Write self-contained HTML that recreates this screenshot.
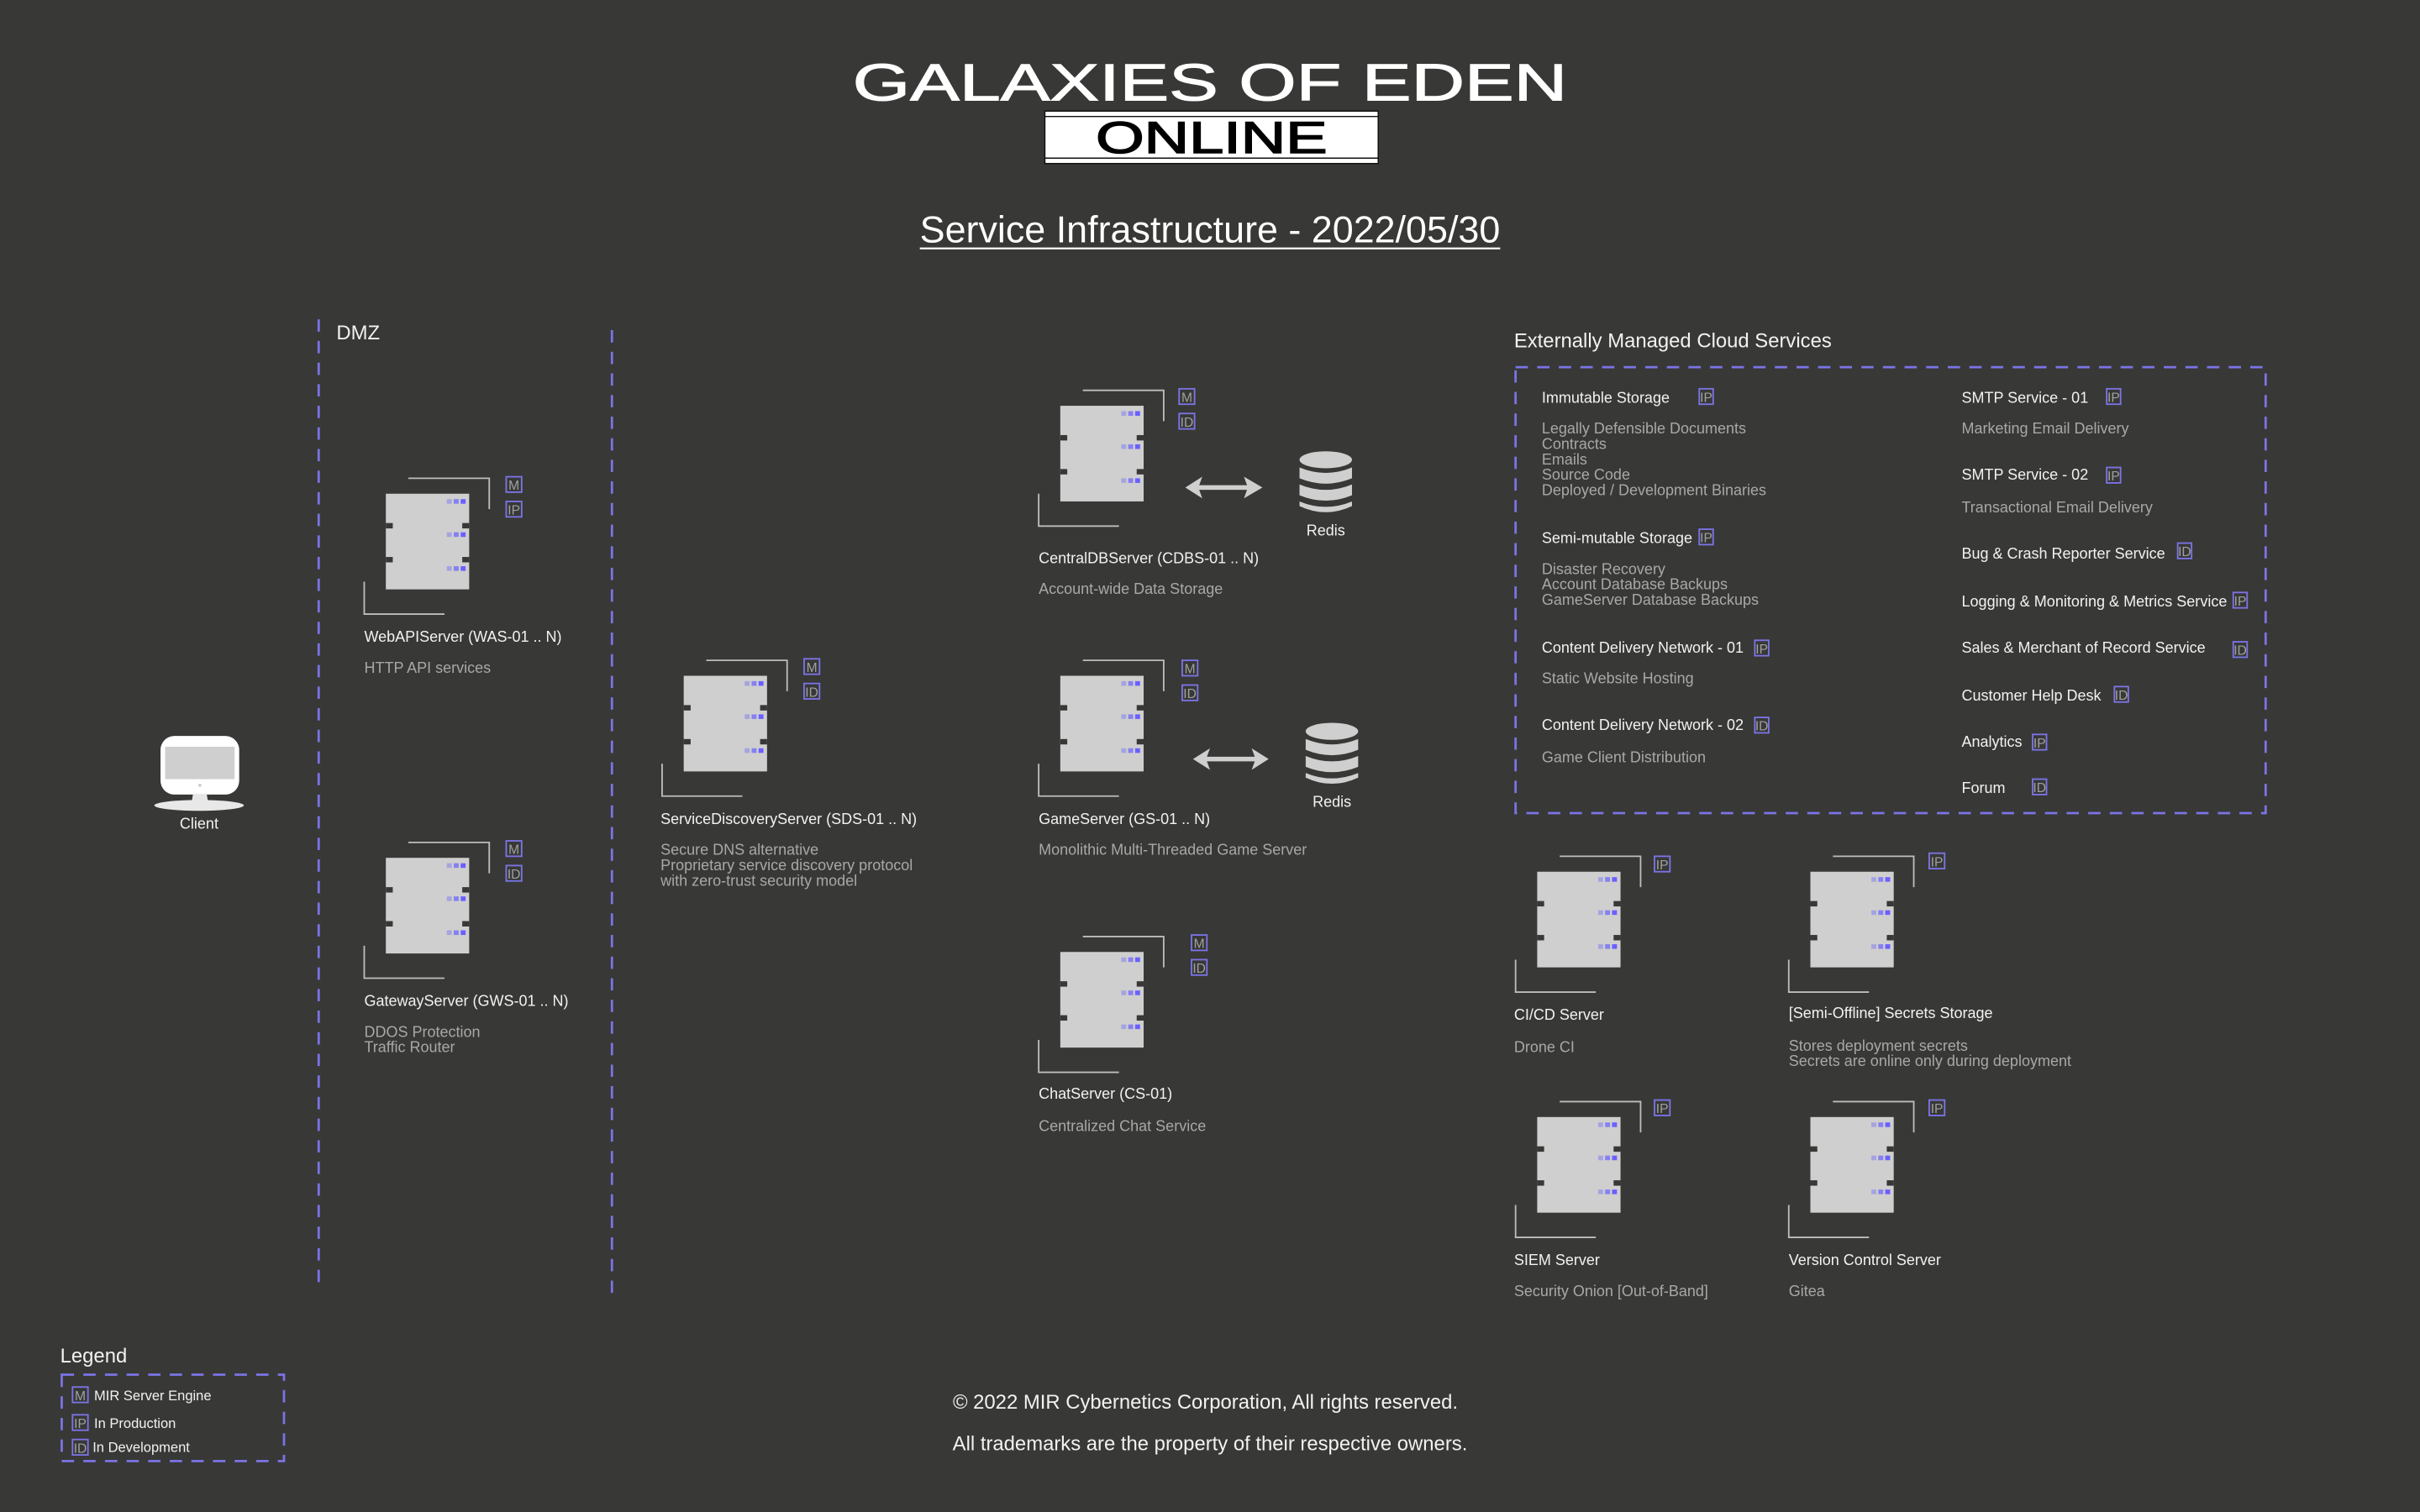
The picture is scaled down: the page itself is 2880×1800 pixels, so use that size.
<!DOCTYPE html>
<html><head><meta charset="utf-8"><style>
html,body{margin:0;padding:0;background:#383836;}
svg{display:block;}
text{font-family:"Liberation Sans",sans-serif;}
.w{fill:#f2f2f2;font-size:9.8px;}
.g{fill:#a8a8a8;font-size:9.8px;}
.h{fill:#f2f2f2;font-size:13px;}
.b{fill:none;stroke:#7b74e6;stroke-width:1;}
.bt{fill:#a0a0a0;font-size:8.5px;}
</style></head><body>
<svg width="2880" height="1800" viewBox="0 0 1568 980" xmlns="http://www.w3.org/2000/svg">
<rect width="1568" height="980" fill="#383836"/>
<defs>
<g id="srv">
 <polyline points="14.6,-10 67,-10 67,10" fill="none" stroke="#bdbdbd" stroke-width="1"/>
 <polyline points="-14,57 -14,78 38,78" fill="none" stroke="#bdbdbd" stroke-width="1"/>
 <rect x="0" y="0" width="54" height="62" fill="#cfcfcf"/>
 <rect x="0" y="19" width="4.5" height="3.5" fill="#383836"/>
 <rect x="49.5" y="19" width="4.5" height="3.5" fill="#383836"/>
 <rect x="0" y="41" width="4.5" height="3.5" fill="#383836"/>
 <rect x="49.5" y="41" width="4.5" height="3.5" fill="#383836"/>
 <g id="dots"><rect x="39.5" y="3.5" width="3.2" height="3" fill="#a6a3e0"/><rect x="44" y="3.5" width="3.2" height="3" fill="#8680f0"/><rect x="48.5" y="3.5" width="3.2" height="3" fill="#6a60ff"/></g>
 <use href="#dots" y="21.5"/><use href="#dots" y="43.5"/>
</g>
</defs>

<!-- Title -->
<text x="784" y="65" text-anchor="middle" fill="#ffffff" font-size="34" textLength="463" lengthAdjust="spacingAndGlyphs" stroke="#ffffff" stroke-width="0.6">GALAXIES OF EDEN</text>
<rect x="677" y="72" width="216" height="34" fill="#ffffff" stroke="#111" stroke-width="0.8"/>
<line x1="677" y1="75.5" x2="893" y2="75.5" stroke="#111" stroke-width="0.8"/>
<line x1="677" y1="102.5" x2="893" y2="102.5" stroke="#111" stroke-width="0.8"/>
<text x="785" y="99" text-anchor="middle" fill="#000" font-size="29" textLength="150" lengthAdjust="spacingAndGlyphs" stroke="#000" stroke-width="0.8">ONLINE</text>
<text x="784" y="157" text-anchor="middle" fill="#ffffff" font-size="24" textLength="376" lengthAdjust="spacingAndGlyphs">Service Infrastructure - 2022/05/30</text>
<line x1="596" y1="161" x2="972" y2="161" stroke="#ffffff" stroke-width="1.2"/>

<!-- DMZ -->
<line x1="206.5" y1="207" x2="206.5" y2="836" stroke="#7b74e6" stroke-width="1.5" stroke-dasharray="8,6"/>
<line x1="396.5" y1="214" x2="396.5" y2="838" stroke="#7b74e6" stroke-width="1.5" stroke-dasharray="8,6"/>
<text x="218" y="220" class="h">DMZ</text>

<!-- Client -->
<rect x="104" y="477" width="51" height="38" rx="9" fill="#ffffff"/>
<rect x="107" y="484" width="45" height="21" fill="#cfcfcf"/>
<circle cx="129.5" cy="509" r="1" fill="#ccc"/>
<path d="M125 515 L134 515 L135 521 L124 521 Z" fill="#e6e6e6"/>
<ellipse cx="129" cy="522" rx="29" ry="3.5" fill="#e8e8e8"/>
<text x="129" y="537" text-anchor="middle" class="w">Client</text>

<!-- Servers -->
<use href="#srv" x="250" y="320"/>
<use href="#srv" x="250" y="556"/>
<use href="#srv" x="443" y="438"/>
<use href="#srv" x="687" y="263"/>
<use href="#srv" x="687" y="438"/>
<use href="#srv" x="687" y="617"/>
<use href="#srv" x="996" y="565"/>
<use href="#srv" x="1173" y="565"/>
<use href="#srv" x="996" y="724"/>
<use href="#srv" x="1173" y="724"/>

<!-- badges -->
<g>
<rect class="b" x="328" y="309" width="10" height="10"/><text x="333" y="317.5" text-anchor="middle" class="bt">M</text>
<rect class="b" x="328" y="325" width="10" height="10"/><text x="333" y="333.5" text-anchor="middle" class="bt">IP</text>
<rect class="b" x="328" y="545" width="10" height="10"/><text x="333" y="553.5" text-anchor="middle" class="bt">M</text>
<rect class="b" x="328" y="561" width="10" height="10"/><text x="333" y="569.5" text-anchor="middle" class="bt">ID</text>
<rect class="b" x="521" y="427" width="10" height="10"/><text x="526" y="435.5" text-anchor="middle" class="bt">M</text>
<rect class="b" x="521" y="443" width="10" height="10"/><text x="526" y="451.5" text-anchor="middle" class="bt">ID</text>
<rect class="b" x="764" y="252" width="10" height="10"/><text x="769" y="260.5" text-anchor="middle" class="bt">M</text>
<rect class="b" x="764" y="268" width="10" height="10"/><text x="769" y="276.5" text-anchor="middle" class="bt">ID</text>
<rect class="b" x="766" y="428" width="10" height="10"/><text x="771" y="436.5" text-anchor="middle" class="bt">M</text>
<rect class="b" x="766" y="444" width="10" height="10"/><text x="771" y="452.5" text-anchor="middle" class="bt">ID</text>
<rect class="b" x="772" y="606" width="10" height="10"/><text x="777" y="614.5" text-anchor="middle" class="bt">M</text>
<rect class="b" x="772" y="622" width="10" height="10"/><text x="777" y="630.5" text-anchor="middle" class="bt">ID</text>
<rect class="b" x="1072" y="555" width="10" height="10"/><text x="1077" y="563.5" text-anchor="middle" class="bt">IP</text>
<rect class="b" x="1250" y="553" width="10" height="10"/><text x="1255" y="561.5" text-anchor="middle" class="bt">IP</text>
<rect class="b" x="1072" y="713" width="10" height="10"/><text x="1077" y="721.5" text-anchor="middle" class="bt">IP</text>
<rect class="b" x="1250" y="713" width="10" height="10"/><text x="1255" y="721.5" text-anchor="middle" class="bt">IP</text>
</g>

<!-- server labels -->
<text x="236" y="416" class="w">WebAPIServer (WAS-01 .. N)</text>
<text x="236" y="436" class="g">HTTP API services</text>
<text x="236" y="652" class="w">GatewayServer (GWS-01 .. N)</text>
<text x="236" y="672" class="g">DDOS Protection</text>
<text x="236" y="682" class="g">Traffic Router</text>
<text x="428" y="534" class="w">ServiceDiscoveryServer (SDS-01 .. N)</text>
<text x="428" y="554" class="g">Secure DNS alternative</text>
<text x="428" y="564" class="g">Proprietary service discovery protocol</text>
<text x="428" y="574" class="g">with zero-trust security model</text>
<text x="673" y="365" class="w">CentralDBServer (CDBS-01 .. N)</text>
<text x="673" y="385" class="g">Account-wide Data Storage</text>
<text x="673" y="534" class="w">GameServer (GS-01 .. N)</text>
<text x="673" y="554" class="g">Monolithic Multi-Threaded Game Server</text>
<text x="673" y="712" class="w">ChatServer (CS-01)</text>
<text x="673" y="733" class="g">Centralized Chat Service</text>
<text x="981" y="661" class="w">CI/CD Server</text>
<text x="981" y="682" class="g">Drone CI</text>
<text x="1159" y="660" class="w">[Semi-Offline] Secrets Storage</text>
<text x="1159" y="681" class="g">Stores deployment secrets</text>
<text x="1159" y="691" class="g">Secrets are online only during deployment</text>
<text x="981" y="820" class="w">SIEM Server</text>
<text x="981" y="840" class="g">Security Onion [Out-of-Band]</text>
<text x="1159" y="820" class="w">Version Control Server</text>
<text x="1159" y="840" class="g">Gitea</text>

<!-- arrows & redis -->
<g fill="#cfcfcf">
<path d="M768 316 L779 309 L777 314.5 L808 314.5 L806 309 L818 316 L806 323 L808 317.5 L777 317.5 L779 323 Z"/>
<path d="M773 492 L784 485 L782 490.5 L813 490.5 L811 485 L822 492 L811 499 L813 493.5 L782 493.5 L784 499 Z"/>
</g>
<g id="redis" fill="#cfcfcf">
<ellipse cx="859" cy="298" rx="17" ry="5.5"/>
<path d="M842 303 Q859 310 876 303 L876 310 Q859 317 842 310 Z"/>
<path d="M842 314 Q859 321 876 314 L876 321 Q859 328 842 321 Z"/>
<path d="M842 325 Q859 332 876 325 L876 328 Q859 336 842 328 Z"/>
</g>
<use href="#redis" x="4" y="176"/>
<text x="859" y="347" text-anchor="middle" class="w">Redis</text>
<text x="863" y="523" text-anchor="middle" class="w">Redis</text>

<!-- Cloud -->
<text x="981" y="225" class="h">Externally Managed Cloud Services</text>
<rect x="982" y="238" width="486" height="289" fill="none" stroke="#7b74e6" stroke-width="1.5" stroke-dasharray="8,6"/>
<g>
<text x="999" y="261" class="w">Immutable Storage</text>
<text x="999" y="281" class="g">Legally Defensible Documents</text>
<text x="999" y="291" class="g">Contracts</text>
<text x="999" y="301" class="g">Emails</text>
<text x="999" y="311" class="g">Source Code</text>
<text x="999" y="321" class="g">Deployed / Development Binaries</text>
<text x="999" y="352" class="w">Semi-mutable Storage</text>
<text x="999" y="372" class="g">Disaster Recovery</text>
<text x="999" y="382" class="g">Account Database Backups</text>
<text x="999" y="392" class="g">GameServer Database Backups</text>
<text x="999" y="423" class="w">Content Delivery Network - 01</text>
<text x="999" y="443" class="g">Static Website Hosting</text>
<text x="999" y="473" class="w">Content Delivery Network - 02</text>
<text x="999" y="494" class="g">Game Client Distribution</text>
<text x="1271" y="261" class="w">SMTP Service - 01</text>
<text x="1271" y="281" class="g">Marketing Email Delivery</text>
<text x="1271" y="311" class="w">SMTP Service - 02</text>
<text x="1271" y="332" class="g">Transactional Email Delivery</text>
<text x="1271" y="362" class="w">Bug &amp; Crash Reporter Service</text>
<text x="1271" y="393" class="w" textLength="172" lengthAdjust="spacingAndGlyphs">Logging &amp; Monitoring &amp; Metrics Service</text>
<text x="1271" y="423" class="w">Sales &amp; Merchant of Record Service</text>
<text x="1271" y="454" class="w">Customer Help Desk</text>
<text x="1271" y="484" class="w">Analytics</text>
<text x="1271" y="514" class="w">Forum</text>
</g>
<g>
<rect class="b" x="1101" y="252" width="9" height="10"/><text x="1105.5" y="260.5" text-anchor="middle" class="bt">IP</text>
<rect class="b" x="1101" y="343" width="9" height="10"/><text x="1105.5" y="351.5" text-anchor="middle" class="bt">IP</text>
<rect class="b" x="1137" y="415" width="9" height="10"/><text x="1141.5" y="423.5" text-anchor="middle" class="bt">IP</text>
<rect class="b" x="1137" y="465" width="9" height="10"/><text x="1141.5" y="473.5" text-anchor="middle" class="bt">ID</text>
<rect class="b" x="1365" y="252" width="9" height="10"/><text x="1369.5" y="260.5" text-anchor="middle" class="bt">IP</text>
<rect class="b" x="1365" y="303" width="9" height="10"/><text x="1369.5" y="311.5" text-anchor="middle" class="bt">IP</text>
<rect class="b" x="1411" y="352" width="9" height="10"/><text x="1415.5" y="360.5" text-anchor="middle" class="bt">ID</text>
<rect class="b" x="1447" y="384" width="9" height="10"/><text x="1451.5" y="392.5" text-anchor="middle" class="bt">IP</text>
<rect class="b" x="1447" y="416" width="9" height="10"/><text x="1451.5" y="424.5" text-anchor="middle" class="bt">ID</text>
<rect class="b" x="1370" y="445" width="9" height="10"/><text x="1374.5" y="453.5" text-anchor="middle" class="bt">ID</text>
<rect class="b" x="1317" y="476" width="9" height="10"/><text x="1321.5" y="484.5" text-anchor="middle" class="bt">IP</text>
<rect class="b" x="1317" y="505" width="9" height="10"/><text x="1321.5" y="513.5" text-anchor="middle" class="bt">ID</text>
</g>

<!-- Legend -->
<text x="39" y="883" class="h">Legend</text>
<rect x="40" y="891" width="144" height="56" fill="none" stroke="#7b74e6" stroke-width="1.5" stroke-dasharray="8,6"/>
<rect class="b" x="47" y="899" width="10" height="10"/><text x="52" y="907.5" text-anchor="middle" class="bt">M</text>
<text x="61" y="907.5" fill="#f2f2f2" font-size="9">MIR Server Engine</text>
<rect class="b" x="47" y="917" width="10" height="10"/><text x="52" y="925.5" text-anchor="middle" class="bt">IP</text>
<text x="61" y="925.5" fill="#f2f2f2" font-size="9">In Production</text>
<rect class="b" x="47" y="933" width="10" height="10"/><text x="52" y="941.5" text-anchor="middle" class="bt">ID</text>
<text x="60" y="941" fill="#f2f2f2" font-size="9">In Development</text>

<!-- footer -->
<text x="781" y="913" text-anchor="middle" fill="#f2f2f2" font-size="13">© 2022 MIR Cybernetics Corporation, All rights reserved.</text>
<text x="784" y="940" text-anchor="middle" fill="#f2f2f2" font-size="13">All trademarks are the property of their respective owners.</text>
</svg>
</body></html>
